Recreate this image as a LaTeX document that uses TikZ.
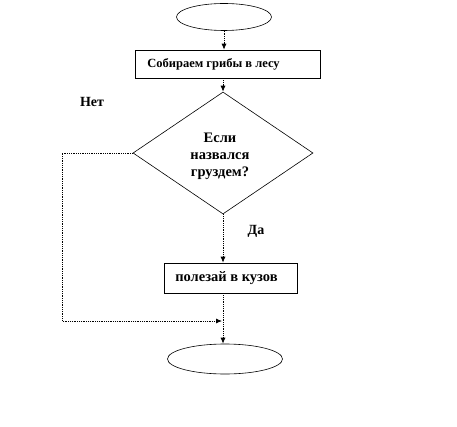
\documentclass[tikz,border=0pt]{standalone}
\usepackage{fontspec}
\setmainfont{Liberation Serif}
\usetikzlibrary{shapes.geometric,arrows.meta}
\begin{document}
\begin{tikzpicture}[x=1pt,y=-1pt,
  conn/.style={densely dotted,line width=0.8pt,-{Latex[length=6pt,width=5pt]}},
  term/.style={draw,ellipse,line width=0.6pt,inner sep=0pt},
  proc/.style={draw,rectangle,line width=0.6pt,inner sep=0pt,font=\bfseries},
  lbl/.style={font=\bfseries\fontsize{14}{16}\selectfont,inner sep=0pt}]
\useasboundingbox (0,0) rectangle (457,427);
\node[term,minimum width=95pt,minimum height=27pt] (start) at (224,17) {};
\node[proc,minimum width=185pt,minimum height=28pt,font=\bfseries\fontsize{12.5}{14}\selectfont] (collect) at (227.5,64) {\hspace*{-28pt}Собираем грибы в лесу};
\node[draw,diamond,aspect=1.5,line width=0.6pt,inner sep=0pt,minimum width=180pt,minimum height=122pt] (dia) at (223,153) {};
\node[lbl,align=center,font=\bfseries\fontsize{14.5}{17}\selectfont] (q) at (220,156) {Если\\назвался\\груздем?};
\node[proc,minimum width=133pt,minimum height=30pt,font=\bfseries\fontsize{14.5}{16}\selectfont] (climb) at (230.5,278) {\hspace*{-8pt}полезай в кузов};
\node[lbl] (no) at (92,102) {Нет};
\node[lbl] (yes) at (256,231) {Да};
\node[term,minimum width=115pt,minimum height=30pt] (stop) at (225,359) {};
\coordinate (lft) at (62,321);
\coordinate (m) at (222,321);
\draw[conn] (start.south) -- (start.south |- collect.north);
\draw[conn] (collect.south -| dia.north) -- (dia.north);
\draw[conn] (dia.south) -- (dia.south |- climb.north);
\draw[conn] (dia.south |- climb.south) -- (dia.south |- stop.north);
\draw[conn] (dia.west) -| (lft) -- (m);
\end{tikzpicture}
\end{document}
